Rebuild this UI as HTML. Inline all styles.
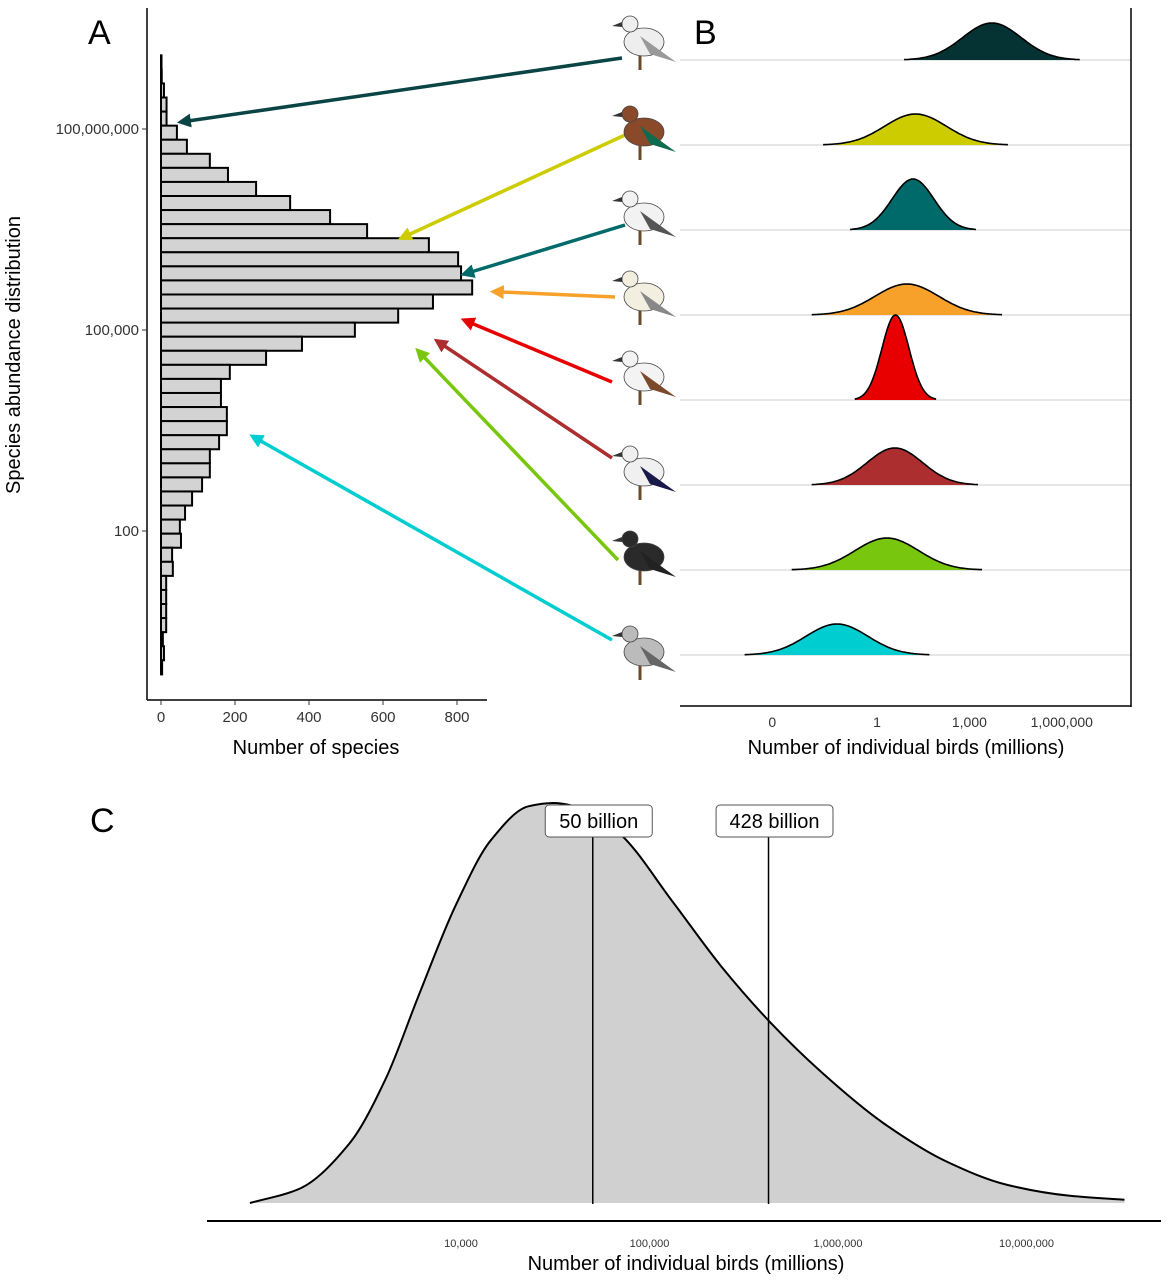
<!DOCTYPE html>
<html><head><meta charset="utf-8"><style>
html,body{margin:0;padding:0;background:#fff;}
svg{display:block;font-family:"Liberation Sans",Arial,sans-serif;}
</style></head><body>
<svg id="fig" width="1169" height="1280" viewBox="0 0 1169 1280">
<defs>
<marker id="ah" viewBox="0 0 10 10" refX="2" refY="5" markerWidth="4" markerHeight="4" orient="auto-start-reverse" markerUnits="strokeWidth"><path d="M0,0 L10,5 L0,10 z" fill="context-stroke"/></marker>
</defs>
<g id="panelA"></g>
<g id="arrows"></g>
<g id="birds"></g>
<g id="panelB"></g>
<g id="panelC"></g>
<text x="88" y="44" font-size="34">A</text>
<text x="694" y="44" font-size="34">B</text>
<text x="90" y="832" font-size="34">C</text>
</svg>
<script>
// ---------- Panel A data ----------
const histCounts = [1,2,8,15,15,43,70,132,181,257,349,457,557,724,803,811,841,735,641,524,381,284,186,162,162,178,178,157,132,132,111,84,65,51,54,30,32,14,14,14,14,5,8,3];
const histBinStart = 9.1;   // log10 abundance of top edge
const histBinWidth = 0.21;  // decades per bin
const aXTicks = [0,200,400,600,800];
const aYTicks = [8,5,2];
const aYTickLabels = ['100,000,000','100,000','100'];

// ---------- Panel B data ----------
const ridgeNames = ['gull','heron','wheatear','wren','osprey','woodpecker','cockatoo','robin'];
const ridgeMeans = [3.73,1.25,1.17,0.97,0.6,0.58,0.32,-1.3];
const ridgeSDs = [0.95,1.0,0.68,1.03,0.44,0.9,1.03,1.0];
const ridgeHeights = [37,31,51,31,85,37,32,31];
const ridgeColors = ['#053333','#cccc00','#006a6a','#f7a12a','#e80000','#ad2e2e','#78c70e','#00cdd0'];
const bTickVals = [-3.4,0,3,6];
const bTickLabels = ['0','1','1,000','1,000,000'];

// ---------- Panel C data ----------
const cLog = [2.88,3.14,3.41,3.60,3.77,3.97,4.16,4.36,4.49,4.68,4.85,5.12,5.38,5.64,5.91,6.24,6.57,6.90,7.23,7.52];
const cDensity = [0,0.035,0.15,0.31,0.512,0.742,0.908,0.992,1.0,0.98,0.92,0.755,0.592,0.452,0.328,0.2,0.105,0.045,0.018,0.008];
const cTickVals = [4,5,6,7];
const cTickLabels = ['10,000','100,000','1,000,000','10,000,000'];
const cMarkers = [Math.log10(50000), Math.log10(428000)];
const cMarkerLabels = ['50 billion','428 billion'];

const NS='http://www.w3.org/2000/svg';
function mk(parent,tag,attrs,text){const e=document.createElementNS(NS,tag);for(const k in attrs)e.setAttribute(k,attrs[k]);if(text!==undefined)e.textContent=text;parent.appendChild(e);return e;}

// ---------- Panel A ----------
const gA=document.getElementById('panelA');
const axA=v=>161+v*0.37;
const ayA=l=>129+(8-l)*67;
histCounts.forEach((c,i)=>{
  const top=ayA(histBinStart-histBinWidth*i), bot=ayA(histBinStart-histBinWidth*(i+1));
  const r=mk(gA,'rect',{x:axA(0),y:top,width:Math.max(axA(c)-axA(0),0.5),height:bot-top,fill:'#d3d3d3',stroke:'#000','stroke-width':2});
  
  
});
let l=mk(gA,'line',{x1:147,y1:8,x2:147,y2:700,stroke:'#000','stroke-width':1.5});


l=mk(gA,'line',{x1:147,y1:700,x2:487,y2:700,stroke:'#000','stroke-width':1.5});


aXTicks.forEach(v=>{
  mk(gA,'line',{x1:axA(v),y1:700,x2:axA(v),y2:705,stroke:'#333'});
  const t=mk(gA,'text',{x:axA(v),y:722,'text-anchor':'middle','font-size':15,fill:'#333'},String(v));
  
  
});
aYTicks.forEach((v,i)=>{
  mk(gA,'line',{x1:142,y1:ayA(v),x2:147,y2:ayA(v),stroke:'#333'});
  const t=mk(gA,'text',{x:139,y:ayA(v)+5,'text-anchor':'end','font-size':15,fill:'#333'},aYTickLabels[i]);
  
  
});
let tt=mk(gA,'text',{x:316,y:754,'text-anchor':'middle','font-size':20},'Number of species');


tt=mk(gA,'text',{x:0,y:0,'text-anchor':'middle','font-size':20,transform:'translate(20,355) rotate(-90)'},'Species abundance distribution');



// ---------- Arrows ----------
const gArr=document.getElementById('arrows');
const arrowDefs=[[622,58,188,121],[625,135,408,235],[625,225,471,272],[615,297,501,292],[612,382,471,323],[612,458,443,345],[618,560,423,356],[612,640,259,440]];
arrowDefs.forEach((a,i)=>{
  const ln=mk(gArr,'line',{x1:a[0],y1:a[1],x2:a[2],y2:a[3],stroke:ridgeColors[i]==='#053333'?'#0a4444':ridgeColors[i],'stroke-width':3.5,'marker-end':'url(#ah)'});
  
  
});

// ---------- Birds (simple shapes) ----------
const gB2=document.getElementById('birds');
const birdStyles=[['#eeeeee','#999'],['#8a4a2a','#0f6b4f'],['#f2f2f2','#555'],['#f2eee0','#888'],['#f3f3f3','#7a4a2a'],['#f0f0f0','#1a1a4a'],['#2a2a2a','#222'],['#bbbbbb','#666']];
const birdY=[40,130,215,295,375,470,555,650];
birdY.forEach((cy,i)=>{
  const g=mk(gB2,'g',{transform:`translate(640,${cy})`});
  
  
  mk(g,'ellipse',{cx:4,cy:2,rx:20,ry:14,fill:birdStyles[i][0],stroke:'#444','stroke-width':0.8});
  mk(g,'path',{d:'M0,-4 L36,22 L10,14 Z',fill:birdStyles[i][1]});
  mk(g,'circle',{cx:-10,cy:-16,r:8,fill:birdStyles[i][0],stroke:'#444','stroke-width':0.8});
  mk(g,'path',{d:'M-18,-18 L-28,-14 L-18,-13 Z',fill:'#333'});
  mk(g,'line',{x1:0,y1:16,x2:0,y2:30,stroke:'#6b4a2a','stroke-width':3});
});

// ---------- Panel B ----------
const gB=document.getElementById('panelB');
const xB=v=>877+v*30.8;
const baseB=i=>60+i*85;
ridgeMeans.forEach((m,i)=>{
  const b=baseB(i);
  const gl=mk(gB,'line',{x1:680,y1:b,x2:1131,y2:b,stroke:'#e6e6e6','stroke-width':2});
  
  
});
ridgeMeans.forEach((m,i)=>{
  const sd=ridgeSDs[i], h=ridgeHeights[i], b=baseB(i);
  let pts=[];
  for(let k=0;k<=80;k++){const v=m-3*sd+6*sd*k/80;const d=Math.exp(-0.5*((v-m)/sd)**2);pts.push([xB(v),b-h*d]);}
  const d='M'+pts.map(p=>p[0].toFixed(1)+','+p[1].toFixed(1)).join(' L');
  const area=mk(gB,'path',{d:d+` L${pts[pts.length-1][0].toFixed(1)},${b} L${pts[0][0].toFixed(1)},${b} Z`,fill:ridgeColors[i]});
  
  
  mk(gB,'path',{d:d,fill:'none',stroke:'#000','stroke-width':1.6});
});
l=mk(gB,'line',{x1:1131,y1:8,x2:1131,y2:707,stroke:'#000','stroke-width':1.5});


l=mk(gB,'line',{x1:680,y1:706,x2:1131,y2:706,stroke:'#000','stroke-width':1.5});


bTickVals.forEach((v,i)=>{
  const t=mk(gB,'text',{x:xB(v),y:727,'text-anchor':'middle','font-size':14,fill:'#333'},bTickLabels[i]);
  
  
});
tt=mk(gB,'text',{x:906,y:754,'text-anchor':'middle','font-size':20},'Number of individual birds (millions)');



// ---------- Panel C ----------
const gC=document.getElementById('panelC');
const xC=v=>461+(v-4)*188.5;
const yC=d=>1203-d*400;
const P=cLog.map((v,i)=>[xC(v),yC(cDensity[i])]);
// monotone cubic (Fritsch-Carlson)
const n=P.length, dk=[], m=[];
for(let i=0;i<n-1;i++) dk.push((P[i+1][1]-P[i][1])/(P[i+1][0]-P[i][0]));
m[0]=dk[0]; m[n-1]=dk[n-2];
for(let i=1;i<n-1;i++){
  if(dk[i-1]*dk[i]<=0) m[i]=0;
  else { const h0=P[i][0]-P[i-1][0], h1=P[i+1][0]-P[i][0]; const w1=2*h1+h0, w2=h1+2*h0; m[i]=(w1+w2)/(w1/dk[i-1]+w2/dk[i]); }
}
let dC='M'+P[0][0].toFixed(1)+','+P[0][1].toFixed(1);
for(let i=0;i<n-1;i++){
  const h=(P[i+1][0]-P[i][0])/3;
  dC+=` C${(P[i][0]+h).toFixed(1)},${(P[i][1]+m[i]*h).toFixed(1)} ${(P[i+1][0]-h).toFixed(1)},${(P[i+1][1]-m[i+1]*h).toFixed(1)} ${P[i+1][0].toFixed(1)},${P[i+1][1].toFixed(1)}`;
}
const areaC=mk(gC,'path',{d:dC+` L${P[n-1][0]},1203 L${P[0][0]},1203 Z`,fill:'#d0d0d0'});


const lineC=mk(gC,'path',{d:dC,fill:'none',stroke:'#000','stroke-width':2});


cMarkers.forEach((v,i)=>{
  const ml=mk(gC,'line',{x1:xC(v),y1:836,x2:xC(v),y2:1204,stroke:'#000','stroke-width':1.5});
  
  
  const w=cMarkerLabels[i].length*9.9+8;
  const bx=mk(gC,'rect',{x:xC(v)-w/2+6,y:805,width:w,height:32,rx:4,fill:'#fff',stroke:'#555','stroke-width':1});
  
  
  const t=mk(gC,'text',{x:xC(v)+6,y:828,'text-anchor':'middle','font-size':20},cMarkerLabels[i]);
  
  
});
l=mk(gC,'line',{x1:207,y1:1221,x2:1161,y2:1221,stroke:'#000','stroke-width':2});


cTickVals.forEach((v,i)=>{
  const t=mk(gC,'text',{x:xC(v),y:1247,'text-anchor':'middle','font-size':11,fill:'#333'},cTickLabels[i]);
  
  
});
tt=mk(gC,'text',{x:686,y:1270,'text-anchor':'middle','font-size':20},'Number of individual birds (millions)');


</script>
</body></html>
